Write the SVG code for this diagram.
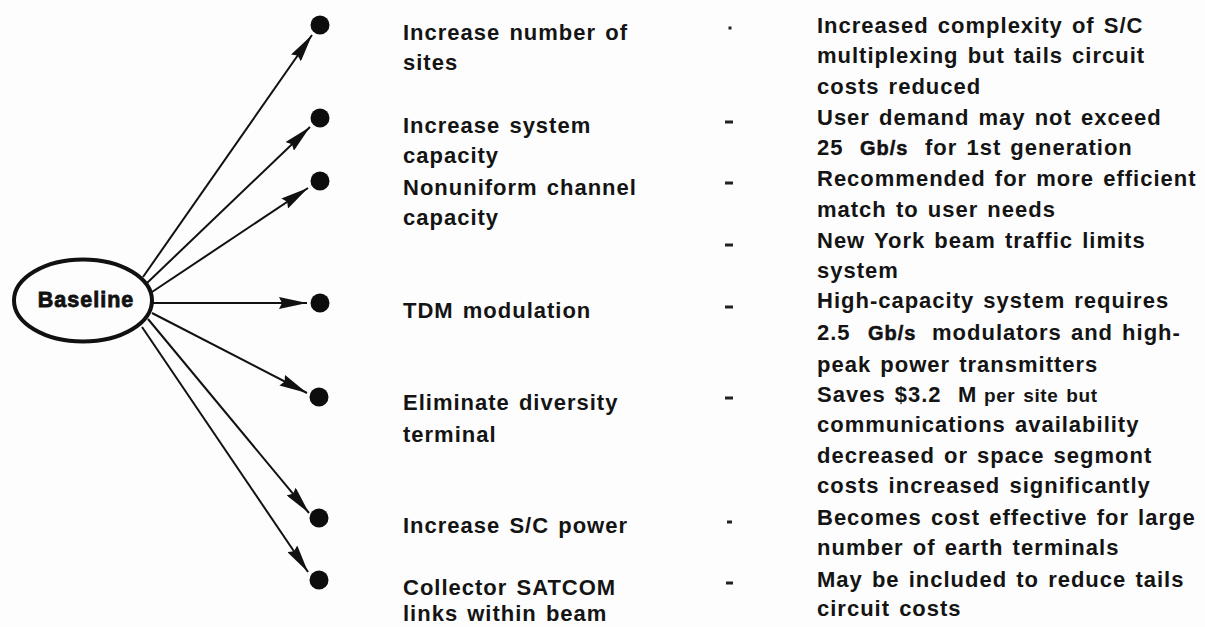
<svg xmlns="http://www.w3.org/2000/svg" width="1205" height="627" viewBox="0 0 1205 627">
<style>
.t{font-family:"Liberation Sans",Arial,sans-serif;font-size:22px;font-weight:bold;fill:#141414;letter-spacing:1px;word-spacing:2px}
.s{font-family:"Liberation Sans",Arial,sans-serif;font-size:19px;font-weight:bold;fill:#141414;letter-spacing:0.6px;word-spacing:2px}
.g{font-family:"Liberation Sans",Arial,sans-serif;font-size:20px;font-weight:bold;fill:#111;stroke:#111;stroke-width:0.5px;letter-spacing:1px}
.dot{fill:#0d0d0d}
.ln{stroke:#111;stroke-width:2;fill:none;marker-end:url(#ah)}
.dash{fill:#222}
</style>
<defs>
<marker id="ah" markerUnits="userSpaceOnUse" markerWidth="30" markerHeight="12" refX="28" refY="6" orient="auto">
<path d="M0,0 L28,6 L0,12 L3,6 z" fill="#111"/>
</marker>
</defs>
<rect width="1205" height="627" fill="#fdfdfd"/>
<g id="baseline">
<ellipse cx="83" cy="300.5" rx="69" ry="41" fill="none" stroke="#111" stroke-width="4"/>
<text x="86" y="307" text-anchor="middle" style="font-family:'Liberation Sans',Arial,sans-serif;font-size:21.5px;font-weight:bold;fill:#111;stroke:#111;stroke-width:0.8px;letter-spacing:1px">Baseline</text>
</g>
<g id="connectors">
<line class="ln" x1="143" y1="277" x2="312" y2="35"/>
<line class="ln" x1="147" y1="283" x2="310" y2="127"/>
<line class="ln" x1="152" y1="292" x2="308" y2="188"/>
<line class="ln" x1="153" y1="303" x2="307" y2="303"/>
<line class="ln" x1="152" y1="313" x2="307" y2="393"/>
<line class="ln" x1="148" y1="319" x2="309" y2="513"/>
<line class="ln" x1="142" y1="327" x2="308" y2="572"/>
</g>
<g id="opt1">
<circle class="dot" cx="320" cy="25" r="9.5"/>
<text class="t" x="403" y="40">Increase number of</text>
<text class="t" x="403" y="70">sites</text>
<rect class="dash" x="728.5" y="26.5" width="3" height="3"/>
<text class="t" x="817" y="33">Increased complexity of S/C</text>
<text class="t" x="817" y="63">multiplexing but tails circuit</text>
<text class="t" x="817" y="94">costs reduced</text>
</g>
<g id="opt2">
<circle class="dot" cx="320" cy="118" r="9.5"/>
<text class="t" x="403" y="133">Increase system</text>
<text class="t" x="403" y="163">capacity</text>
<rect class="dash" x="725" y="120.5" width="8" height="3"/>
<text class="t" x="817" y="125">User demand may not exceed</text>
<text class="t" x="817" y="155">25</text>
<text class="g" x="860" y="155">Gb/s</text>
<text class="t" x="925" y="155">for 1st generation</text>
</g>
<g id="opt3">
<circle class="dot" cx="320" cy="181" r="9.5"/>
<text class="t" x="403" y="195">Nonuniform channel</text>
<text class="t" x="403" y="225">capacity</text>
<rect class="dash" x="725" y="181.5" width="8" height="3"/>
<text class="t" x="817" y="186">Recommended for more efficient</text>
<text class="t" x="817" y="217">match to user needs</text>
<rect class="dash" x="725" y="243.5" width="8" height="3"/>
<text class="t" x="817" y="248">New York beam traffic limits</text>
<text class="t" x="817" y="278">system</text>
</g>
<g id="opt4">
<circle class="dot" cx="320" cy="303" r="9.5"/>
<text class="t" x="403" y="318">TDM modulation</text>
<rect class="dash" x="725" y="305.5" width="8" height="3"/>
<text class="t" x="817" y="308">High-capacity system requires</text>
<text class="t" x="817" y="340">2.5</text>
<text class="g" x="868" y="340">Gb/s</text>
<text class="t" x="932" y="340">modulators and high-</text>
<text class="t" x="817" y="372">peak power transmitters</text>
</g>
<g id="opt5">
<circle class="dot" cx="319" cy="397" r="9.5"/>
<text class="t" x="403" y="410">Eliminate diversity</text>
<text class="t" x="403" y="442">terminal</text>
<rect class="dash" x="725" y="396.5" width="8" height="3"/>
<text class="t" x="817" y="402">Saves $3.2</text>
<text class="t" x="958" y="402">M</text>
<text class="s" x="984" y="402">per site but</text>
<text class="t" x="817" y="432">communications availability</text>
<text class="t" x="817" y="463">decreased or space segmont</text>
<text class="t" x="817" y="493">costs increased significantly</text>
</g>
<g id="opt6">
<circle class="dot" cx="319" cy="518" r="9.5"/>
<text class="t" x="403" y="533">Increase S/C power</text>
<rect class="dash" x="727" y="520.5" width="5" height="3"/>
<text class="t" x="817" y="525">Becomes cost effective for large</text>
<text class="t" x="817" y="555">number of earth terminals</text>
</g>
<g id="opt7">
<circle class="dot" cx="319" cy="580" r="9.5"/>
<text class="t" x="403" y="595">Collector SATCOM</text>
<text class="t" x="403" y="621">links within beam</text>
<rect class="dash" x="726" y="581.5" width="7" height="3"/>
<text class="t" x="817" y="587">May be included to reduce tails</text>
<text class="t" x="817" y="616">circuit costs</text>
</g>
</svg>
